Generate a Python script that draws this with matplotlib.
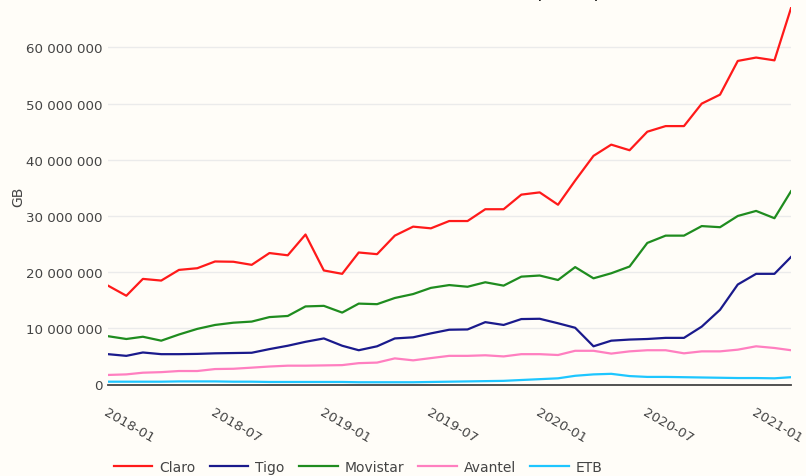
import matplotlib
matplotlib.use("Agg")
import matplotlib.pyplot as plt
import matplotlib.dates as mdates
import matplotlib.ticker as mticker
import pandas as pd

# monthly data, 2018-01 .. 2021-03 (values in millions of GB)
months = pd.date_range("2018-01-01", "2021-03-01", freq="MS")

claro = [17.6, 15.8, 18.8, 18.5, 20.4, 20.7, 21.9, 21.85, 21.3, 23.4,
         23.0, 26.7, 20.3, 19.7, 23.5, 23.2, 26.5, 28.1, 27.8, 29.1,
         29.1, 31.2, 31.2, 33.8, 34.2, 32.0, 36.3, 40.7, 42.7, 41.7,
         45.0, 46.0, 46.0, 50.0, 51.6, 57.6, 58.2, 57.7, 67.0]
tigo = [5.4, 5.1, 5.7, 5.4, 5.4, 5.45, 5.55, 5.6, 5.65, 6.3,
        6.9, 7.6, 8.2, 6.9, 6.1, 6.8, 8.2, 8.4, 9.1, 9.75,
        9.8, 11.1, 10.6, 11.65, 11.7, 10.9, 10.1, 6.8, 7.8, 8.0,
        8.1, 8.3, 8.3, 10.3, 13.3, 17.8, 19.7, 19.7, 22.7]
movistar = [8.6, 8.1, 8.5, 7.8, 8.9, 9.9, 10.6, 11.0, 11.2, 12.0,
            12.2, 13.9, 14.0, 12.8, 14.4, 14.3, 15.4, 16.1, 17.2, 17.7,
            17.4, 18.2, 17.6, 19.2, 19.4, 18.6, 20.9, 18.9, 19.8, 21.0,
            25.2, 26.5, 26.5, 28.2, 28.0, 30.0, 30.9, 29.6, 34.4]
avantel = [1.7, 1.8, 2.1, 2.2, 2.4, 2.4, 2.75, 2.8, 3.0, 3.2,
           3.35, 3.35, 3.4, 3.45, 3.8, 3.9, 4.65, 4.3, 4.7, 5.1,
           5.1, 5.2, 5.0, 5.4, 5.4, 5.25, 6.0, 6.0, 5.5, 5.9,
           6.1, 6.1, 5.55, 5.9, 5.9, 6.2, 6.8, 6.5, 6.1]
etb = [0.5, 0.5, 0.5, 0.5, 0.55, 0.55, 0.55, 0.5, 0.5, 0.45,
       0.45, 0.45, 0.45, 0.45, 0.4, 0.4, 0.4, 0.4, 0.45, 0.5,
       0.55, 0.6, 0.65, 0.8, 0.95, 1.1, 1.55, 1.8, 1.9, 1.5,
       1.35, 1.35, 1.3, 1.25, 1.2, 1.15, 1.15, 1.1, 1.3]

series = [("Claro", claro, "#ff1a1a"),
          ("Tigo", tigo, "#1a1a8c"),
          ("Movistar", movistar, "#1f8c1f"),
          ("Avantel", avantel, "#ff7fc0"),
          ("ETB", etb, "#1ec6ff")]

bg = "#fffdf8"
txt = "#444444"

fig = plt.figure(figsize=(8.06, 4.77), dpi=100, facecolor=bg)
ax = fig.add_axes([108 / 806, 1 - 385.5 / 477, 683 / 806, 377.5 / 477])
ax.set_facecolor(bg)

for name, vals, color in series:
    ax.plot(months, [v * 1e6 for v in vals], color=color, lw=1.6, label=name)

ax.set_xlim(months[0], months[-1])
ax.set_ylim(0, 67.2e6)

ax.yaxis.set_major_locator(mticker.MultipleLocator(10e6))
ax.yaxis.set_major_formatter(
    mticker.FuncFormatter(lambda v, p: f"{int(round(v)):,}".replace(",", " ")))
ax.xaxis.set_major_locator(mdates.MonthLocator(bymonth=[1, 7]))
ax.xaxis.set_major_formatter(mdates.DateFormatter("%Y-%m"))

ax.grid(axis="y", color="#ebebeb", lw=1)
ax.set_axisbelow(True)
for s in ["top", "right", "left"]:
    ax.spines[s].set_visible(False)
ax.spines["bottom"].set_color("#444444")
ax.spines["bottom"].set_linewidth(1.3)

ax.tick_params(axis="y", length=0, pad=4, labelsize=9.6, labelcolor=txt)
ax.tick_params(axis="x", length=0, pad=15, labelsize=9.6, labelcolor=txt)
for lab in ax.get_xticklabels():
    lab.set_rotation(-30)
    lab.set_ha("left")
    lab.set_va("top")
    lab.set_rotation_mode("anchor")

fig.text(18 / 806, 1 - 197 / 477, "GB", rotation=90, ha="center", va="center",
         fontsize=10, color=txt)

# title is mostly cut off at the top of the picture
fig.text(637 / 806, 1 + 1.8 / 477, "Tráfico de datos por empresa", ha="right",
         va="baseline", fontsize=11.3, color="black")

ax.legend(loc="center left", bbox_to_anchor=(0.0, -0.218), ncol=5, frameon=False,
          fontsize=10, labelcolor=txt, handlelength=2.8, handletextpad=0.5,
          columnspacing=1.0, borderaxespad=0)

fig.savefig("out.png", dpi=100, facecolor=bg)
